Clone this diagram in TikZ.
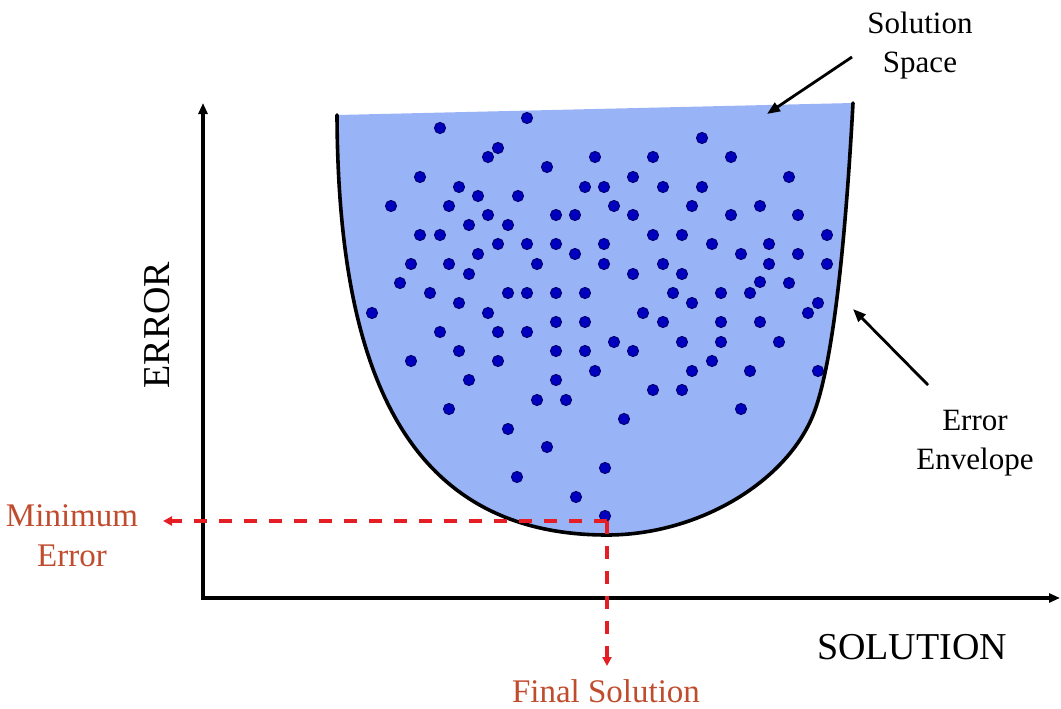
\documentclass[tikz,border=0pt]{standalone}
\usepackage{fontspec}
\setmainfont{Liberation Serif}
\usetikzlibrary{arrows.meta}
\definecolor{spacefill}{RGB}{153,179,247}
\definecolor{dotfill}{RGB}{0,0,190}
\definecolor{dotline}{RGB}{0,0,110}
\definecolor{dashred}{RGB}{228,30,36}
\definecolor{labelred}{RGB}{192,76,46}
\begin{document}
\begin{tikzpicture}[x=1pt,y=-1pt,
  axisline/.style={line width=3.4pt,-{Triangle[length=11pt,width=9pt]}},
  pointer/.style={line width=2.8pt,-{Triangle[length=13pt,width=10pt]}},
  redarrow/.style={draw=dashred,line width=3.6pt,dash pattern=on 13pt off 12pt,
    -{Triangle[length=9pt,width=9pt,fill=dashred]}},
  blacklabel/.style={font=\fontsize{31}{39}\selectfont,align=center,text=black,inner sep=0pt},
  redlabel/.style={font=\fontsize{33}{40}\selectfont,align=center,text=labelred,inner sep=0pt},
  axislabel/.style={font=\fontsize{38}{44}\selectfont,inner sep=0pt},
  sdot/.style={fill=dotfill,draw=dotline,line width=0.9pt},
  envelope/.style={line width=3.6pt,black,line cap=round}]
\useasboundingbox (0,0) rectangle (1061,709);

% corner points of the solution space
\coordinate (tl) at (337,115);
\coordinate (tr) at (853,103);
\coordinate (bot) at (607,535);
\coordinate (rmid) at (815,410);

% solution space fill
\fill[spacefill] (tl) .. controls (338,360) and (400,535) .. (bot)
  .. controls (700,535) and (790,480) .. (rmid)
  .. controls (832.5,361) and (845,250) .. (tr) -- cycle;

% dots
\foreach \px/\py in {
 527/118, 440/128, 702/138, 498/148, 488/157, 595/157, 653/157, 731/157, 547/167,
 420/177, 633/177, 789/177, 459/187, 585/187, 604/187, 663/187, 702/187,
 478/196, 518/196, 391/206, 449/206, 614/206, 692/206, 760/206,
 488/215, 556/215, 575/215, 633/215, 731/215, 798/215, 469/225, 508/225,
 420/235, 440/235, 653/235, 682/235, 827/235,
 498/244, 527/244, 556/244, 604/244, 712/244, 769/244,
 478/254, 575/254, 741/254, 798/254,
 411/264, 449/264, 537/264, 604/264, 663/264, 769/264, 827/264,
 469/274, 633/274, 682/274, 400/283, 760/282, 789/283,
 430/293, 508/293, 527/293, 556/293, 585/293, 673/293, 721/293, 750/293,
 459/303, 692/303, 818/303, 372/313, 488/313, 643/313, 808/313,
 556/322, 585/322, 663/322, 721/322, 760/322, 440/332, 498/332, 527/332,
 614/342, 682/342, 721/342, 779/342, 459/351, 556/351, 585/351, 633/351,
 411/361, 498/361, 712/361, 595/371, 692/371, 750/371, 818/371,
 469/380, 556/380, 653/390, 682/390, 537/400, 566/400, 449/409, 741/409,
 624/419, 508/429, 547/447, 605/468, 517/477, 576/497, 605/516}
 \path[sdot] (\px,\py) circle (5.6pt);

% error envelope outline (open at top)
\draw[envelope] (tl) .. controls (338,360) and (400,535) .. (bot)
  .. controls (700,535) and (790,480) .. (rmid)
  .. controls (832.5,361) and (845,250) .. (tr);

% axes
\coordinate (origin) at (203,598);
\coordinate (ytop) at (203,103);
\coordinate (xend) at (1060,598);
\draw[axisline] (origin) -- (ytop);
\draw[axisline] ([xshift=-1.7pt]origin) -- (xend);

% labels
\node[axislabel,rotate=90] (errlab) at (157,325) {ERROR};
\node[axislabel] (sollab) at (912,647) {SOLUTION};
\node[blacklabel] (space) at (920,46) {Solution\\Space};
\node[blacklabel] (env) at (975,443) {Error\\Envelope};
\node[redlabel] (minerr) at (72,536) {Minimum\\Error};
\node[redlabel] (final) at (606,691) {Final Solution};

% pointers
\coordinate (spacetail) at (852,57);
\coordinate (spacehead) at (767,114);
\coordinate (envtail) at (928,385);
\coordinate (envhead) at (853,309);
\draw[pointer] (spacetail) -- (spacehead);
\draw[pointer] (envtail) -- (envhead);

% minimum error / final solution guides
\coordinate (corner) at (607,521);
\coordinate (minhead) at (163,521);
\coordinate (finhead) at (607,666);
\draw[redarrow] (corner) -- (minhead);
\draw[redarrow] (corner) -- (finhead);
\end{tikzpicture}
\end{document}
